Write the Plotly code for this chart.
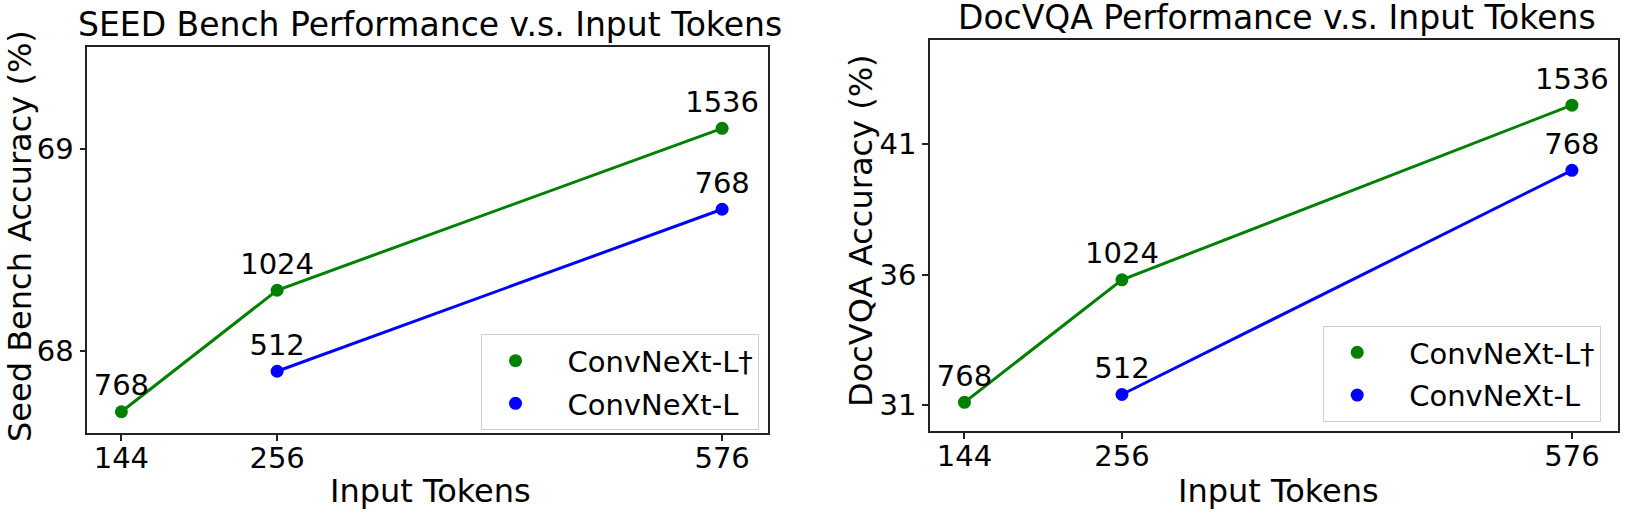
import plotly.graph_objects as go

# ---- data ----
x_ticks = [144, 256, 576]

seed_green_x = [144, 256, 576]
seed_green_y = [67.7, 68.3, 69.1]
seed_green_lbl = ["768", "1024", "1536"]
seed_blue_x = [256, 576]
seed_blue_y = [67.9, 68.7]
seed_blue_lbl = ["512", "768"]

doc_green_x = [144, 256, 576]
doc_green_y = [31.1, 35.8, 42.5]
doc_green_lbl = ["768", "1024", "1536"]
doc_blue_x = [256, 576]
doc_blue_y = [31.4, 40.0]
doc_blue_lbl = ["512", "768"]

seed_yticks = [68, 69]
doc_yticks = [31, 36, 41]

name_g = "ConvNeXt-L†"
name_b = "ConvNeXt-L"
GREEN = "#008000"
BLUE = "#0000ff"
FONT = "DejaVu Sans"
PAD = "\u00a0\u00a0"

W, H = 1625, 514

fig = go.Figure()


def add_series(xs, ys, lbls, color, name, xa, ya, legend, group):
    fig.add_trace(go.Scatter(x=xs, y=ys, mode="lines", line=dict(color=color, width=3),
                             xaxis=xa, yaxis=ya, showlegend=False, hoverinfo="skip"))
    fig.add_trace(go.Scatter(x=xs, y=ys, mode="markers+text", text=lbls,
                             textposition="top center",
                             textfont=dict(size=29, color="black", family=FONT),
                             marker=dict(color=color, size=13),
                             name=PAD + name, xaxis=xa, yaxis=ya, legend=legend,
                             legendgroup=group, showlegend=True))


add_series(seed_green_x, seed_green_y, seed_green_lbl, GREEN, name_g, "x", "y", "legend", "g1")
add_series(seed_blue_x, seed_blue_y, seed_blue_lbl, BLUE, name_b, "x", "y", "legend", "b1")
add_series(doc_green_x, doc_green_y, doc_green_lbl, GREEN, name_g, "x2", "y2", "legend2", "g2")
add_series(doc_blue_x, doc_blue_y, doc_blue_lbl, BLUE, name_b, "x2", "y2", "legend2", "b2")

axis_common = dict(showline=True, mirror=True, linecolor="#222", linewidth=1.5,
                   ticks="outside", ticklen=6, tickwidth=1.5, tickcolor="#222",
                   showgrid=False, zeroline=False,
                   tickfont=dict(size=29, color="black", family=FONT))

legend_common = dict(xanchor="left", yanchor="top",
                     bgcolor="white", bordercolor="#d0d0d0", borderwidth=1,
                     font=dict(size=29, family=FONT, color="black"),
                     itemwidth=57, tracegroupgap=2, traceorder="grouped")

fig.update_layout(
    width=W, height=H,
    margin=dict(l=0, r=0, t=0, b=0),
    paper_bgcolor="white", plot_bgcolor="white",
    font=dict(family=FONT, color="black"),
    xaxis=dict(domain=[87.3 / W, 768 / W], range=[119.5, 609], tickvals=x_ticks,
               anchor="y", ticklabelstandoff=-8, **axis_common),
    yaxis=dict(domain=[1 - 433 / H, 1 - 47.3 / H], range=[67.595, 69.5], tickvals=seed_yticks,
               anchor="x", **axis_common),
    xaxis2=dict(domain=[930 / W, 1618.3 / W], range=[119.5, 609], tickvals=x_ticks,
                anchor="y2", ticklabelstandoff=-8, **axis_common),
    yaxis2=dict(domain=[1 - 431 / H, 1 - 40 / H], range=[30, 45], tickvals=doc_yticks,
                anchor="x2", **axis_common),
    legend=dict(x=481 / W, y=1 - 334.3 / H, **legend_common),
    legend2=dict(x=1322.7 / W, y=1 - 326 / H, **legend_common),
)

ann = [
    dict(text="SEED Bench Performance v.s. Input Tokens", x=430 / W, y=1 - 24 / H, size=33),
    dict(text="DocVQA Performance v.s. Input Tokens", x=1277 / W, y=1 - 18 / H, size=33),
    dict(text="Input Tokens", x=430.7 / W, y=1 - 491 / H, size=32),
    dict(text="Input Tokens", x=1278 / W, y=1 - 491 / H, size=32),
]
for a in ann:
    fig.add_annotation(text=a["text"], x=a["x"], y=a["y"], xref="paper", yref="paper",
                       xanchor="center", yanchor="middle", showarrow=False,
                       font=dict(size=a["size"], family=FONT, color="black"))

fig.add_annotation(text="Seed Bench Accuracy (%)", x=20 / W, y=1 - 236 / H, xref="paper", yref="paper",
                   xanchor="center", yanchor="middle", showarrow=False, textangle=-90,
                   font=dict(size=32, family=FONT, color="black"))
fig.add_annotation(text="DocVQA Accuracy (%)", x=861 / W, y=1 - 231 / H, xref="paper", yref="paper",
                   xanchor="center", yanchor="middle", showarrow=False, textangle=-90,
                   font=dict(size=32, family=FONT, color="black"))

fig.write_html("out.html", config={"displayModeBar": False},
               post_script="document.body.style.margin='0';document.body.style.overflow='hidden';")
